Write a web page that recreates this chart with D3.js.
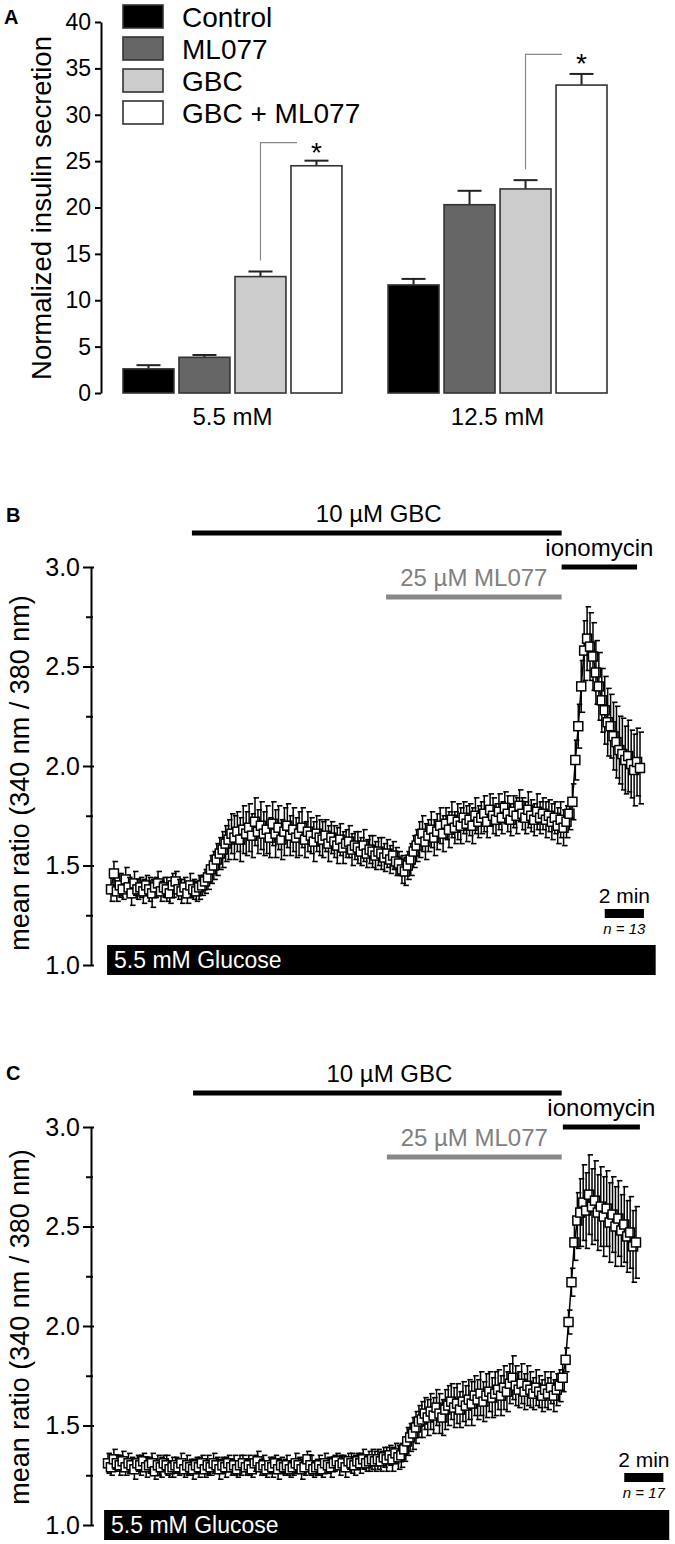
<!DOCTYPE html>
<html>
<head>
<meta charset="utf-8">
<script src="https://cdn.jsdelivr.net/npm/d3@7"></script>
<style>
  body { margin: 0; background: #fff; }
  svg text { font-family: "Liberation Sans", Arial, sans-serif; fill: #000; }
</style>
</head>
<body>
<script>
// ---- panel A : insulin secretion ----
const groups = ["5.5 mM", "12.5 mM"];
const treatments = ["Control", "ML077", "GBC", "GBC + ML077"];
const meanLow = [2.6, 3.85, 12.55, 24.5];
const semLow = [0.4, 0.25, 0.55, 0.55];
const meanHigh = [11.65, 20.3, 22.0, 33.2];
const semHigh = [0.65, 1.5, 0.95, 1.2];
const ticksA = [0, 5, 10, 15, 20, 25, 30, 35, 40];
const sigLevel = [27, 36.5]; // height of the * brackets, in y units

const fills = ["#000", "#666", "#ccc", "#fff"];

// ---- panels B and C : fura-2 ratio, one sample every 0.15 min ----
const sampleMin = 0.15;
const ticksB = [1.0, 1.5, 2.0, 2.5, 3.0];
const minorB = [1.25, 1.75, 2.25, 2.75];
const drugNames = ["10 \u00b5M GBC", "25 \u00b5M ML077", "ionomycin"];

const ratioB = [
  1.38,1.46,1.37,1.40,1.38,1.43,1.39,1.36,1.41,1.38,
  1.39,1.37,1.40,1.38,1.36,1.39,1.41,1.37,1.39,1.38,
  1.36,1.40,1.42,1.38,1.37,1.39,1.36,1.40,1.38,1.37,
  1.39,
  1.40,1.42,1.44,1.48,1.50,1.53,1.56,1.58,1.61,1.63,
  1.66,1.64,1.67,1.63,1.68,1.66,1.69,1.65,1.72,1.67,
  1.70,1.66,1.68,1.64,1.71,1.66,1.69,1.63,1.67,1.70,
  1.65,1.68,1.64,1.66,1.69,1.63,1.67,1.65,1.62,1.66,
  1.64,
  1.63,1.65,1.61,1.64,1.62,1.60,1.63,1.59,1.61,1.62,
  1.58,1.60,1.59,1.57,1.60,1.56,1.58,1.57,1.55,1.57,
  1.56,1.54,1.56,1.53,
  1.55,1.52,1.51,1.48,1.47,1.50,1.53,1.57,1.60,1.63,
  1.66,1.62,1.65,1.68,1.64,1.67,
  1.70,1.66,1.71,1.68,1.73,1.69,1.72,1.70,1.74,1.71,
  1.73,1.70,1.75,1.72,
  1.74,1.76,1.72,1.78,1.75,1.73,1.77,1.74,1.79,1.76,
  1.73,1.77,1.75,1.80,1.76,1.74,1.78,1.75,1.73,1.77,
  1.74,1.76,1.73,
  1.75,1.72,1.74,1.70,1.73,1.69,1.72,
  1.76,1.82,2.03,2.20,2.40,2.58,2.64,2.60,2.55,2.47,
  2.40,2.33,2.28,2.22,2.20,2.15,2.12,2.08,2.06,2.03,
  2.05,2.01,1.98,2.02,1.99
];
const semB = [
  0.06,0.06,0.05,0.06,0.05,0.06,0.05,0.06,0.06,0.05,
  0.05,0.06,0.05,0.06,0.07,0.05,0.06,0.05,0.05,0.06,
  0.05,0.06,0.05,0.05,0.06,0.05,0.05,0.06,0.05,0.05,
  0.06,
  0.05,0.06,0.06,0.07,0.07,0.08,0.08,0.09,0.09,0.10,
  0.10,0.11,0.10,0.11,0.12,0.11,0.12,0.11,0.12,0.11,
  0.12,0.11,0.12,0.10,0.11,0.12,0.11,0.10,0.12,0.11,
  0.10,0.11,0.10,0.11,0.10,0.09,0.10,0.09,0.10,0.09,
  0.09,
  0.09,0.08,0.09,0.08,0.08,0.09,0.08,0.08,0.07,0.08,
  0.08,0.07,0.08,0.07,0.08,0.07,0.07,0.08,0.07,0.07,
  0.08,0.07,0.07,0.07,
  0.07,0.07,0.06,0.07,0.07,0.07,0.08,0.08,0.08,0.09,
  0.09,0.09,0.08,0.09,0.09,0.09,
  0.09,0.09,0.08,0.09,0.09,0.08,0.09,0.09,0.08,0.09,
  0.08,0.09,0.09,0.08,
  0.08,0.09,0.08,0.08,0.09,0.08,0.09,0.08,0.08,0.09,
  0.08,0.08,0.09,0.08,0.08,0.08,0.09,0.08,0.08,0.09,
  0.08,0.08,0.09,
  0.08,0.09,0.08,0.09,0.09,0.09,0.08,
  0.08,0.09,0.10,0.11,0.13,0.15,0.16,0.17,0.17,0.16,
  0.17,0.16,0.17,0.17,0.16,0.17,0.18,0.17,0.18,0.17,
  0.18,0.17,0.18,0.17,0.18
];
const drugStartB = [4.13, 14.04, 23.0];
const drugEndB = [23.0, 23.0, 26.85];

const ratioC = [
  1.31,1.29,1.33,1.31,1.30,1.32,1.29,1.31,1.30,1.28,
  1.31,1.30,1.32,1.29,1.30,1.31,1.27,1.30,1.29,1.31,
  1.30,1.28,1.29,1.30,1.29,1.31,1.28,1.30,1.29,1.28,
  1.30,1.29,1.31,1.28,1.30,1.29,1.31,1.30,1.28,1.30,
  1.29,1.31,1.29,1.30,1.28,1.30,1.31,1.29,1.30,1.28,
  1.31,1.32,1.29,1.30,1.28,1.30,1.29,1.31,1.28,1.30,
  1.29,1.30,1.28,1.29,1.31,1.30,1.28,1.29,1.33,1.30,
  1.28,1.29,1.30,1.28,1.31,1.30,1.29,1.31,1.32,1.30,
  1.31,1.29,1.32,1.31,1.30,1.32,1.31,1.33,1.31,1.32,
  1.33,1.32,
  1.33,1.32,1.34,1.33,1.35,1.33,1.36,1.34,1.35,1.38,
  1.42,1.44,1.46,1.49,1.52,1.53,1.56,1.54,1.57,1.55,
  1.59,1.56,1.54,1.58,1.60,1.62,1.59,1.61,1.58,1.62,
  1.60,1.63,1.61,1.65,1.63,1.66,1.62,1.65,1.67,1.64,
  1.66,1.68,1.65,1.69,1.67,1.71,1.74,1.70,1.68,1.71,
  1.67,1.70,1.68,1.66,1.69,1.67,1.65,1.68,1.66,1.69,
  1.65,1.68,1.70,1.74,1.83,2.02,2.22,2.42,2.53,2.57,
  2.62,2.58,2.66,2.60,2.63,2.57,2.60,2.55,2.59,2.52,
  2.56,2.50,2.54,2.48,2.51,2.45,2.47,2.40,2.42
];
const semC = [
  0.05,0.04,0.05,0.04,0.05,0.05,0.04,0.05,0.04,0.05,
  0.04,0.05,0.04,0.05,0.04,0.05,0.04,0.05,0.05,0.04,
  0.05,0.04,0.05,0.04,0.04,0.05,0.04,0.05,0.04,0.05,
  0.04,0.05,0.04,0.04,0.05,0.04,0.05,0.04,0.05,0.04,
  0.05,0.04,0.04,0.05,0.04,0.05,0.04,0.04,0.05,0.04,
  0.04,0.05,0.04,0.05,0.04,0.04,0.05,0.04,0.05,0.04,
  0.04,0.05,0.04,0.04,0.05,0.04,0.05,0.04,0.04,0.05,
  0.04,0.04,0.05,0.04,0.05,0.04,0.05,0.04,0.04,0.05,
  0.04,0.05,0.04,0.05,0.05,0.04,0.05,0.05,0.04,0.05,
  0.05,0.05,
  0.05,0.05,0.05,0.06,0.05,0.06,0.05,0.06,0.06,0.06,
  0.07,0.07,0.08,0.08,0.08,0.09,0.08,0.09,0.09,0.09,
  0.09,0.10,0.09,0.10,0.10,0.09,0.10,0.10,0.09,0.10,
  0.10,0.10,0.11,0.10,0.10,0.11,0.10,0.11,0.10,0.10,
  0.11,0.10,0.10,0.11,0.10,0.10,0.11,0.10,0.09,0.10,
  0.09,0.10,0.09,0.08,0.09,0.08,0.08,0.09,0.08,0.08,
  0.08,0.08,0.08,0.07,0.06,0.06,0.07,0.09,0.14,0.17,
  0.19,0.19,0.20,0.19,0.20,0.19,0.20,0.20,0.19,0.20,
  0.19,0.20,0.19,0.18,0.19,0.18,0.18,0.18,0.18
];
const drugStartC = [4.35, 14.26, 23.26];
const drugEndC = [23.2, 23.2, 27.2];

const svg = d3.select("body").append("svg")
  .attr("width", 675)
  .attr("height", 1544);

// ================= A =================
svg.append("text").attr("x", 4).attr("y", 24)
  .attr("font-size", 20).attr("font-weight", "bold").text("A");

let yA = d3.scaleLinear().domain([0, 40]).range([393, 22]);
let x0 = d3.scaleBand().domain(groups).range([123, 607]).paddingInner(0.174);
let x1 = d3.scaleBand().domain(treatments).range([0, x0.bandwidth()]).paddingInner(0.09);

svg.append("g")
  .attr("transform", "translate(101,0)")
  .call(d3.axisLeft(yA).tickValues(ticksA).tickSize(6).tickSizeOuter(0).tickPadding(4))
  .call(g => g.select(".domain").attr("stroke-width", 2))
  .call(g => g.selectAll(".tick line").attr("stroke-width", 2))
  .call(g => g.selectAll(".tick text").attr("font-size", 23));

svg.append("text")
  .attr("transform", "translate(51,208) rotate(-90)")
  .attr("text-anchor", "middle")
  .attr("font-size", 27.5)
  .text("Normalized insulin secretion");

let rowsA = [
  { g: groups[0], m: meanLow, s: semLow },
  { g: groups[1], m: meanHigh, s: semHigh }
];

rowsA.forEach((row, gi) => {
  let gx = x0(row.g);
  let grp = svg.append("g").attr("transform", "translate(" + gx + ",0)");
  treatments.forEach((t, i) => {
    let bx = x1(t), bw = x1.bandwidth();
    let cx = bx + bw / 2;
    // error bar (upper only)
    grp.append("line")
      .attr("x1", cx).attr("x2", cx)
      .attr("y1", yA(row.m[i])).attr("y2", yA(row.m[i] + row.s[i]))
      .attr("stroke", "#222").attr("stroke-width", 2);
    grp.append("line")
      .attr("x1", cx - 12).attr("x2", cx + 12)
      .attr("y1", yA(row.m[i] + row.s[i])).attr("y2", yA(row.m[i] + row.s[i]))
      .attr("stroke", "#222").attr("stroke-width", 2);
    grp.append("rect")
      .attr("x", bx).attr("y", yA(row.m[i]))
      .attr("width", bw).attr("height", yA(0) - yA(row.m[i]))
      .attr("fill", fills[i])
      .attr("stroke", "#333").attr("stroke-width", 1.6);
  });
  // significance bracket GBC -> GBC + ML077
  let gbcX = x1("GBC") + x1.bandwidth() / 2;
  let topY = yA(row.m[2] + row.s[2]) - 11;
  let by = yA(sigLevel[gi]);
  let endX = x1("GBC + ML077") + 6;
  grp.append("path")
    .attr("d", "M" + gbcX + "," + topY + "V" + by + "H" + endX)
    .attr("fill", "none").attr("stroke", "#888").attr("stroke-width", 1.2);
  grp.append("text")
    .attr("x", x1("GBC + ML077") + x1.bandwidth() / 2)
    .attr("y", by + 19)
    .attr("text-anchor", "middle")
    .attr("font-size", 28)
    .text("*");
  grp.append("text")
    .attr("x", x0.bandwidth() / 2)
    .attr("y", 425)
    .attr("text-anchor", "middle")
    .attr("font-size", 24)
    .text(row.g);
});

// legend
treatments.forEach((t, i) => {
  svg.append("rect")
    .attr("x", 123).attr("y", 5 + i * 32)
    .attr("width", 40).attr("height", 23)
    .attr("fill", fills[i]).attr("stroke", "#333").attr("stroke-width", 1.6);
  svg.append("text")
    .attr("x", 182).attr("y", 27 + i * 32)
    .attr("font-size", 28)
    .text(t);
});

// ================= B and C =================
function drawTrace(p) {
  let x = d3.scaleLinear().domain([0, 27]).range(p.xRange);
  let y = d3.scaleLinear().domain([1, 3]).range(p.yRange);

  svg.append("text").attr("x", 6).attr("y", p.labelY)
    .attr("font-size", 20).attr("font-weight", "bold").text(p.label);

  // drug application bars
  let barY = [p.yRange[1] - 34, p.yRange[1] + 30, p.yRange[1]];
  let barColor = ["#000", "#888", "#000"];
  drugNames.forEach((d, i) => {
    let xa = x(p.start[i]), xb = x(p.end[i]);
    svg.append("line")
      .attr("x1", xa).attr("x2", xb)
      .attr("y1", barY[i]).attr("y2", barY[i])
      .attr("stroke", barColor[i]).attr("stroke-width", 5);
    svg.append("text")
      .attr("x", (xa + xb) / 2 + (i === 0 ? p.gbcShift : 0))
      .attr("y", barY[i] - 11)
      .attr("text-anchor", "middle")
      .attr("font-size", 24)
      .style("fill", i === 1 ? "#808080" : "#000")
      .text(d);
  });

  // y axis
  svg.append("g")
    .attr("transform", "translate(" + p.axisX + ",0)")
    .call(d3.axisLeft(y).tickValues(minorB).tickSize(5).tickFormat(""))
    .call(g => g.select(".domain").remove())
    .call(g => g.selectAll(".tick line").attr("stroke-width", 2).attr("x1", 2));
  svg.append("g")
    .attr("transform", "translate(" + p.axisX + ",0)")
    .call(d3.axisLeft(y).tickValues(ticksB).tickFormat(d3.format(".1f"))
      .tickSize(8).tickSizeOuter(0).tickPadding(3))
    .call(g => g.select(".domain").attr("stroke-width", 2))
    .call(g => g.selectAll(".tick line").attr("stroke-width", 2).attr("x1", 3))
    .call(g => g.selectAll(".tick text").attr("font-size", 25));

  svg.append("text")
    .attr("transform", "translate(29," + p.titleY + ") rotate(-90)")
    .attr("text-anchor", "middle")
    .attr("font-size", 27)
    .text("mean ratio (340 nm / 380 nm)");

  // glucose bar
  svg.append("rect")
    .attr("x", x(p.glucose[0])).attr("y", p.glucoseY)
    .attr("width", x(p.glucose[1]) - x(p.glucose[0])).attr("height", 30)
    .attr("fill", "#000");
  svg.append("text")
    .attr("x", x(p.glucose[0]) + 7).attr("y", p.glucoseY + 23)
    .attr("font-size", 23)
    .style("fill", "#fff")
    .text("5.5 mM Glucose");

  // scale bar
  let sa = x(p.scaleBar[0]), sb = x(p.scaleBar[1]);
  svg.append("rect").attr("x", sa).attr("y", p.scaleY)
    .attr("width", sb - sa).attr("height", 9).attr("fill", "#000");
  svg.append("text").attr("x", (sa + sb) / 2).attr("y", p.scaleY - 6)
    .attr("text-anchor", "middle").attr("font-size", 21).text("2 min");
  svg.append("text").attr("x", (sa + sb) / 2).attr("y", p.scaleY + 25)
    .attr("text-anchor", "middle").attr("font-size", 15)
    .attr("font-style", "italic").text("n = " + p.n);

  // trace
  let pts = p.ratio.map((v, i) => ({ t: i * sampleMin, v: v, s: p.sem[i] }));
  svg.append("path")
    .datum(pts)
    .attr("fill", "none").attr("stroke", "#000").attr("stroke-width", 1.5)
    .attr("d", d3.line().x(d => x(d.t)).y(d => y(d.v)));

  let dots = svg.append("g").selectAll("g")
    .data(pts).enter().append("g")
    .attr("transform", d => "translate(" + x(d.t) + ",0)");
  dots.append("line")
    .attr("x1", 0).attr("x2", 0)
    .attr("y1", d => y(d.v + d.s)).attr("y2", d => y(d.v - d.s))
    .attr("stroke", "#000").attr("stroke-width", 1.5);
  dots.append("line")
    .attr("x1", -1.5).attr("x2", 4)
    .attr("y1", d => y(d.v + d.s)).attr("y2", d => y(d.v + d.s))
    .attr("stroke", "#000").attr("stroke-width", 1.6);
  dots.append("line")
    .attr("x1", -1.5).attr("x2", 4)
    .attr("y1", d => y(d.v - d.s)).attr("y2", d => y(d.v - d.s))
    .attr("stroke", "#000").attr("stroke-width", 1.6);
  dots.append("rect")
    .attr("x", -4.5).attr("y", d => y(d.v) - 4.5)
    .attr("width", 9).attr("height", 9)
    .attr("fill", "#fff").attr("stroke", "#000").attr("stroke-width", 1.5);
}

drawTrace({
  label: "B", labelY: 522,
  xRange: [111, 640], yRange: [965, 567], axisX: 91, titleY: 773,
  ratio: ratioB, sem: semB, start: drugStartB, end: drugEndB, gbcShift: 2,
  glucose: [-0.2, 27.8], glucoseY: 945,
  scaleBar: [25.2, 27.2], scaleY: 909, n: 13
});

drawTrace({
  label: "C", labelY: 1080,
  xRange: [108, 636], yRange: [1525, 1127], axisX: 91, titleY: 1327,
  ratio: ratioC, sem: semC, start: drugStartC, end: drugEndC, gbcShift: 12,
  glucose: [-0.2, 28.7], glucoseY: 1510,
  scaleBar: [26.4, 28.4], scaleY: 1473, n: 17
});
</script>
</body>
</html>
